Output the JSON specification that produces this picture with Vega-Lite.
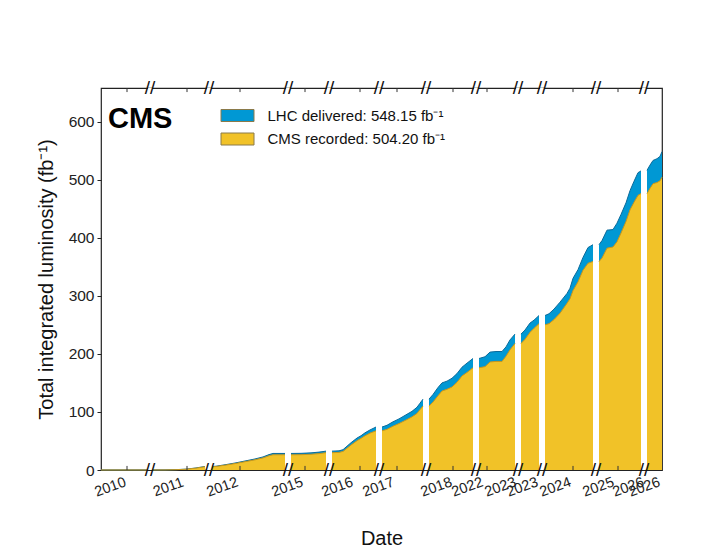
{
  "$schema": "https://vega.github.io/schema/vega-lite/v6.json",
  "width": 561,
  "height": 382,
  "autosize": "none",
  "padding": {"left": 101, "top": 88, "right": 56, "bottom": 78},
  "background": "white",
  "config": {
    "view": {"stroke": "#222222", "strokeWidth": 1.2},
    "font": "Liberation Sans",
    "axis": {"grid": false, "labelFont": "Liberation Sans", "titleFont": "Liberation Sans"}
  },
  "datasets": {
    "lumi": [
      {"seg": "2010", "x": 0, "d": 0, "r": 0},
      {"seg": "2010", "x": 46, "d": 0.03, "r": 0.03},
      {"seg": "2011", "x": 52, "d": 0.03, "r": 0.03},
      {"seg": "2011", "x": 64, "d": 0.1, "r": 0.1},
      {"seg": "2011", "x": 75, "d": 0.6, "r": 0.5},
      {"seg": "2011", "x": 85, "d": 1.5, "r": 1.3},
      {"seg": "2011", "x": 95, "d": 3.5, "r": 3.2},
      {"seg": "2011", "x": 104, "d": 6.1, "r": 5.6},
      {"seg": "2012", "x": 111, "d": 6.1, "r": 5.6},
      {"seg": "2012", "x": 115, "d": 6.5, "r": 6.0},
      {"seg": "2012", "x": 124, "d": 9, "r": 8.3},
      {"seg": "2012", "x": 134, "d": 12, "r": 11},
      {"seg": "2012", "x": 144, "d": 15.5, "r": 14.3},
      {"seg": "2012", "x": 154, "d": 19, "r": 17.5},
      {"seg": "2012", "x": 162, "d": 22.5, "r": 20.8},
      {"seg": "2012", "x": 168, "d": 26.5, "r": 24.5},
      {"seg": "2012", "x": 172, "d": 28.5, "r": 26.2},
      {"seg": "2012", "x": 184, "d": 28.5, "r": 26.2},
      {"seg": "2015", "x": 190, "d": 28.5, "r": 26.2},
      {"seg": "2015", "x": 200, "d": 28.7, "r": 26.4},
      {"seg": "2015", "x": 210, "d": 29.5, "r": 27.1},
      {"seg": "2015", "x": 218, "d": 30.8, "r": 28.2},
      {"seg": "2015", "x": 225, "d": 32.5, "r": 29.8},
      {"seg": "2016", "x": 231, "d": 32.5, "r": 29.8},
      {"seg": "2016", "x": 238, "d": 33, "r": 30.3},
      {"seg": "2016", "x": 242, "d": 35, "r": 32},
      {"seg": "2016", "x": 246, "d": 41, "r": 37.5},
      {"seg": "2016", "x": 250, "d": 47, "r": 43},
      {"seg": "2016", "x": 256, "d": 55, "r": 50.5},
      {"seg": "2016", "x": 260, "d": 59, "r": 54.5},
      {"seg": "2016", "x": 264, "d": 64, "r": 59},
      {"seg": "2016", "x": 269, "d": 69, "r": 63.5},
      {"seg": "2016", "x": 275, "d": 74, "r": 67.5},
      {"seg": "2017", "x": 281, "d": 74, "r": 67.5},
      {"seg": "2017", "x": 286, "d": 77, "r": 70},
      {"seg": "2017", "x": 292, "d": 83, "r": 75.5},
      {"seg": "2017", "x": 298, "d": 88, "r": 80},
      {"seg": "2017", "x": 306, "d": 96, "r": 87},
      {"seg": "2017", "x": 311, "d": 101, "r": 91.5},
      {"seg": "2017", "x": 316, "d": 108, "r": 97.5},
      {"seg": "2017", "x": 319, "d": 115, "r": 104},
      {"seg": "2017", "x": 322, "d": 122, "r": 110},
      {"seg": "2018", "x": 328, "d": 122, "r": 110},
      {"seg": "2018", "x": 332, "d": 130, "r": 117},
      {"seg": "2018", "x": 337, "d": 142, "r": 128},
      {"seg": "2018", "x": 341, "d": 150, "r": 136},
      {"seg": "2018", "x": 346, "d": 153, "r": 139},
      {"seg": "2018", "x": 351, "d": 158, "r": 143},
      {"seg": "2018", "x": 356, "d": 166, "r": 151},
      {"seg": "2018", "x": 361, "d": 177, "r": 162},
      {"seg": "2018", "x": 366, "d": 184, "r": 168},
      {"seg": "2018", "x": 372, "d": 192, "r": 176},
      {"seg": "2022", "x": 378, "d": 192, "r": 176},
      {"seg": "2022", "x": 384, "d": 195, "r": 178},
      {"seg": "2022", "x": 389, "d": 203, "r": 186},
      {"seg": "2022", "x": 395, "d": 204, "r": 187},
      {"seg": "2022", "x": 401, "d": 204, "r": 187},
      {"seg": "2022", "x": 405, "d": 212, "r": 196},
      {"seg": "2022", "x": 409, "d": 224, "r": 207},
      {"seg": "2022", "x": 414, "d": 234, "r": 218},
      {"seg": "2023", "x": 420, "d": 234, "r": 218},
      {"seg": "2023", "x": 424, "d": 241, "r": 225},
      {"seg": "2023", "x": 429, "d": 253, "r": 237},
      {"seg": "2023", "x": 433, "d": 258, "r": 244},
      {"seg": "2023", "x": 438, "d": 266, "r": 252},
      {"seg": "2024", "x": 444, "d": 266, "r": 250},
      {"seg": "2024", "x": 448, "d": 269, "r": 252},
      {"seg": "2024", "x": 453, "d": 277, "r": 259},
      {"seg": "2024", "x": 459, "d": 289, "r": 270},
      {"seg": "2024", "x": 466, "d": 304, "r": 287},
      {"seg": "2024", "x": 469, "d": 313, "r": 295},
      {"seg": "2024", "x": 472, "d": 330, "r": 309},
      {"seg": "2024", "x": 477, "d": 345, "r": 324},
      {"seg": "2024", "x": 482, "d": 366, "r": 344},
      {"seg": "2024", "x": 487, "d": 383, "r": 356},
      {"seg": "2024", "x": 492, "d": 388, "r": 359},
      {"seg": "2025", "x": 498, "d": 388, "r": 359},
      {"seg": "2025", "x": 501, "d": 395, "r": 365},
      {"seg": "2025", "x": 506, "d": 413, "r": 382},
      {"seg": "2025", "x": 512, "d": 414, "r": 384},
      {"seg": "2025", "x": 516, "d": 425, "r": 393},
      {"seg": "2025", "x": 520, "d": 440, "r": 408},
      {"seg": "2025", "x": 525, "d": 460, "r": 428},
      {"seg": "2025", "x": 529, "d": 481, "r": 448},
      {"seg": "2025", "x": 533, "d": 497, "r": 461},
      {"seg": "2025", "x": 537, "d": 512, "r": 473},
      {"seg": "2025", "x": 540, "d": 515, "r": 476},
      {"seg": "2026", "x": 546, "d": 516, "r": 476},
      {"seg": "2026", "x": 549, "d": 525, "r": 485},
      {"seg": "2026", "x": 552, "d": 533, "r": 493},
      {"seg": "2026", "x": 556, "d": 536, "r": 495},
      {"seg": "2026", "x": 559, "d": 540, "r": 498},
      {"seg": "2026", "x": 561, "d": 548.15, "r": 504.2}
    ],
    "breaks": [
      {"b": 49}, {"b": 108}, {"b": 187}, {"b": 228}, {"b": 278}, {"b": 325},
      {"b": 375}, {"b": 417}, {"b": 441}, {"b": 495}, {"b": 543}
    ],
    "minor": [
      {"m": 26}, {"m": 86}, {"m": 139}, {"m": 204}, {"m": 259}, {"m": 296},
      {"m": 352}, {"m": 386}, {"m": 472}, {"m": 517}
    ]
  },
  "layer": [
    {
      "data": {"name": "lumi"},
      "mark": {"type": "area", "interpolate": "linear"},
      "encoding": {
        "x": {
          "field": "x", "type": "quantitative",
          "scale": {"domain": [0, 561], "nice": false, "zero": false},
          "axis": {
            "values": [9, 67, 121, 186, 236, 277, 335, 366, 399, 421, 454, 497, 527, 543],
            "labelExpr": "['2010','2011','2012','2015','2016','2017','2018','2022','2023','2023','2024','2025','2026','2026'][indexof([9,67,121,186,236,277,335,366,399,421,454,497,527,543], datum.value)]",
            "labelAngle": -20, "labelAlign": "center", "labelBaseline": "middle",
            "labelPadding": 17, "ticks": false, "tickSize": 0, "domain": false,
            "labelFontSize": 14.5, "labelColor": "#222222", "labelOverlap": false, "labelBound": false, "labelFlush": false,
            "title": "Date", "titleFontSize": 20, "titleFontWeight": "normal", "titleColor": "#111111", "titlePadding": 30
          }
        },
        "y": {
          "field": "d", "type": "quantitative", "stack": null,
          "title": "Total integrated luminosity (fb⁻¹)",
          "scale": {"domain": [0, 657.78], "nice": false},
          "axis": {
            "values": [0, 100, 200, 300, 400, 500, 600],
            "labelFontSize": 15.5, "labelColor": "#222222", "tickSize": 4, "tickColor": "#222222",
            "labelPadding": 3, "domain": false,
            "titleFontSize": 20, "titleFontWeight": "normal",
            "titleColor": "#111111", "titlePadding": 12
          }
        },
        "detail": {"field": "seg"},
        "color": {
          "datum": "LHC delivered: 548.15 fb⁻¹", "type": "nominal",
          "scale": {"domain": ["LHC delivered: 548.15 fb⁻¹", "CMS recorded: 504.20 fb⁻¹"], "range": ["#0098d4", "#f1c228"]},
          "legend": {
            "orient": "none", "legendX": 129, "legendY": 20, "title": null,
            "labelFontSize": 15, "labelFont": "Liberation Sans", "labelColor": "#111111", "labelLimit": 0,
            "symbolType": "M-2.75,-1L2.75,-1L2.75,1L-2.75,1Z", "symbolSize": 144,
            "symbolOpacity": 1, "symbolStrokeWidth": 1, "symbolStrokeColor": "#8a7a4a",
            "labelOffset": 22.5, "rowPadding": 6.5, "padding": 0
          }
        }
      }
    },
    {
      "data": {"name": "lumi"},
      "mark": {"type": "line", "color": "#0b6a9a", "strokeWidth": 1},
      "encoding": {
        "x": {"field": "x", "type": "quantitative"},
        "y": {"field": "d", "type": "quantitative", "title": "Total integrated luminosity (fb⁻¹)"},
        "detail": {"field": "seg"}
      }
    },
    {
      "data": {"name": "lumi"},
      "mark": {"type": "area", "interpolate": "linear"},
      "encoding": {
        "x": {"field": "x", "type": "quantitative"},
        "y": {"field": "r", "type": "quantitative", "stack": null, "title": "Total integrated luminosity (fb⁻¹)"},
        "detail": {"field": "seg"},
        "color": {"datum": "CMS recorded: 504.20 fb⁻¹", "type": "nominal"}
      }
    },
    {
      "data": {"name": "lumi"},
      "mark": {"type": "line", "color": "#c9971a", "strokeWidth": 1},
      "encoding": {
        "x": {"field": "x", "type": "quantitative"},
        "y": {"field": "r", "type": "quantitative", "title": "Total integrated luminosity (fb⁻¹)"},
        "detail": {"field": "seg"}
      }
    },
    {
      "data": {"name": "minor"},
      "mark": {"type": "rule", "color": "#333333", "strokeWidth": 1},
      "encoding": {
        "x": {"field": "m", "type": "quantitative"},
        "y": {"datum": 0},
        "y2": {"datum": 7}
      }
    },
    {
      "data": {"name": "minor"},
      "mark": {"type": "rule", "color": "#333333", "strokeWidth": 1},
      "encoding": {
        "x": {"field": "m", "type": "quantitative"},
        "y": {"datum": 657.78},
        "y2": {"datum": 650.78}
      }
    },
    {
      "data": {"name": "breaks"},
      "mark": {"type": "rule", "color": "white", "strokeWidth": 4},
      "encoding": {
        "x": {"field": "b", "type": "quantitative"},
        "y": {"datum": 0},
        "y2": {"datum": 657.78}
      }
    },
    {
      "data": {"name": "breaks"},
      "mark": {"type": "text", "text": "//", "fontSize": 19, "font": "Liberation Sans", "color": "#111111", "align": "center", "baseline": "middle"},
      "encoding": {
        "x": {"field": "b", "type": "quantitative"},
        "y": {"datum": 0}
      }
    },
    {
      "data": {"name": "breaks"},
      "mark": {"type": "text", "text": "//", "fontSize": 19, "font": "Liberation Sans", "color": "#111111", "align": "center", "baseline": "middle"},
      "encoding": {
        "x": {"field": "b", "type": "quantitative"},
        "y": {"datum": 657.78}
      }
    },
    {
      "data": {"values": [{"label": "CMS"}]},
      "mark": {"type": "text", "fontSize": 29, "fontWeight": "bold", "font": "Liberation Sans", "color": "#000000", "align": "left", "baseline": "middle"},
      "encoding": {
        "text": {"field": "label"},
        "x": {"datum": 7},
        "y": {"datum": 605}
      }
    }
  ]
}
